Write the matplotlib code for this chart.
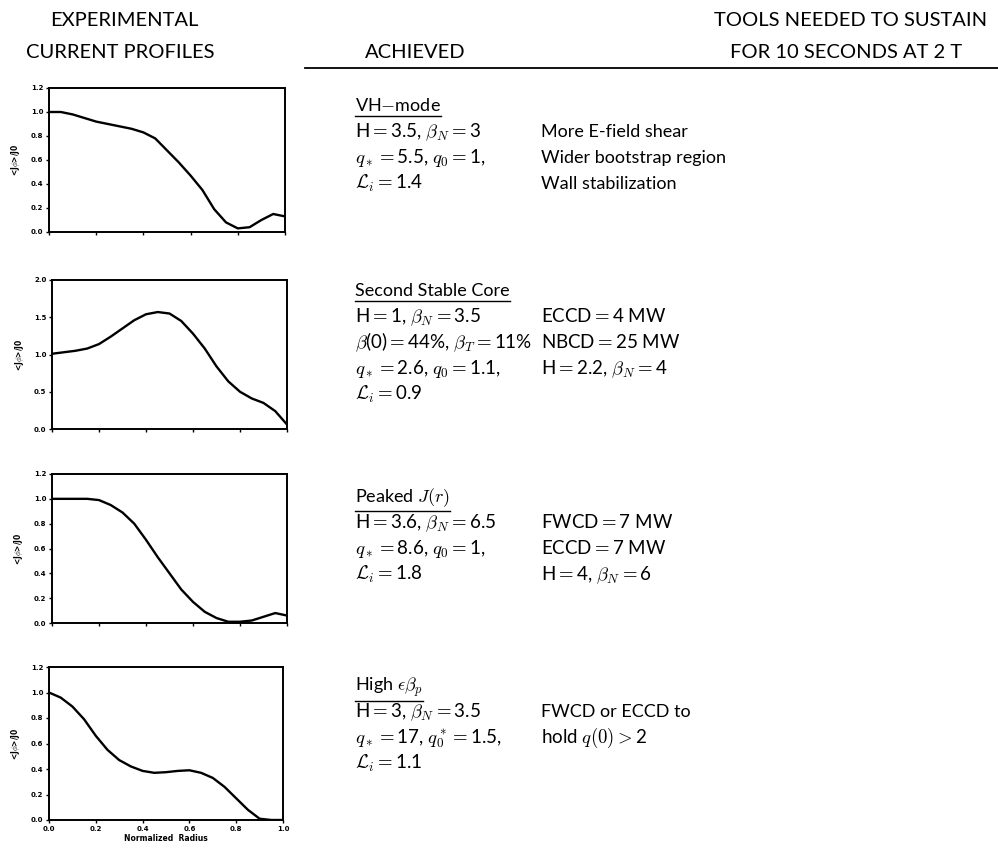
import matplotlib
matplotlib.use("Agg")
import matplotlib.pyplot as plt
from matplotlib.lines import Line2D

plt.rcParams["mathtext.fontset"] = "cm"

W, H = 998, 849

# normalized radius grid shared by all four measured profiles
radius = [0.0, 0.05, 0.1, 0.15, 0.2, 0.25, 0.3, 0.35, 0.4, 0.45, 0.5,
          0.55, 0.6, 0.65, 0.7, 0.75, 0.8, 0.85, 0.9, 0.95, 1.0]

j_vh = [1.0, 1.0, 0.98, 0.95, 0.92, 0.90, 0.88, 0.86, 0.83, 0.78, 0.68,
        0.58, 0.47, 0.35, 0.19, 0.08, 0.03, 0.04, 0.10, 0.15, 0.13]
j_second = [1.01, 1.03, 1.05, 1.08, 1.14, 1.24, 1.35, 1.46, 1.54, 1.57, 1.55,
            1.45, 1.28, 1.08, 0.84, 0.64, 0.50, 0.41, 0.35, 0.24, 0.06]
j_peaked = [1.0, 1.0, 1.0, 1.0, 0.99, 0.95, 0.89, 0.80, 0.67, 0.53, 0.40,
            0.27, 0.17, 0.09, 0.04, 0.01, 0.01, 0.02, 0.05, 0.08, 0.06]
j_high = [1.0, 0.96, 0.89, 0.79, 0.66, 0.55, 0.47, 0.42, 0.385, 0.37, 0.375,
          0.385, 0.39, 0.37, 0.33, 0.26, 0.17, 0.08, 0.01, 0.0, 0.0]

profiles = [j_vh, j_second, j_peaked, j_high]
y_max = [1.2, 2.0, 1.2, 1.2]
y_ticks = [[0.0, 0.2, 0.4, 0.6, 0.8, 1.0, 1.2],
           [0.0, 0.5, 1.0, 1.5, 2.0],
           [0.0, 0.2, 0.4, 0.6, 0.8, 1.0, 1.2],
           [0.0, 0.2, 0.4, 0.6, 0.8, 1.0, 1.2]]
x_ticks = [0.0, 0.2, 0.4, 0.6, 0.8, 1.0]

# box corners in pixels: left, top, right, bottom
boxes = [(49, 88, 285, 232), (52, 280, 287, 429),
         (52, 474, 287, 623), (49, 667, 283, 820)]

E = r"$=$"
titles = [r"VH$-$mode", "Second Stable Core", r"Peaked $J(r)$",
          r"High $\epsilon\beta_p$"]
achieved = [
    [rf"H{E}3.5, $\beta_N${E}3", rf"$q_*${E}5.5, $q_0${E}1,", rf"$\mathcal{{L}}_i${E}1.4"],
    [rf"H{E}1, $\beta_N${E}3.5", rf"$\beta$(0){E}44%, $\beta_T${E}11%",
     rf"$q_*${E}2.6, $q_0${E}1.1,", rf"$\mathcal{{L}}_i${E}0.9"],
    [rf"H{E}3.6, $\beta_N${E}6.5", rf"$q_*${E}8.6, $q_0${E}1,", rf"$\mathcal{{L}}_i${E}1.8"],
    [rf"H{E}3, $\beta_N${E}3.5", rf"$q_*${E}17, $q_0^*${E}1.5,", rf"$\mathcal{{L}}_i${E}1.1"],
]
tools = [
    ["More E-field shear", "Wider bootstrap region", "Wall stabilization"],
    [rf"ECCD{E}4 MW", rf"NBCD{E}25 MW", rf"H{E}2.2, $\beta_N${E}4"],
    [rf"FWCD{E}7 MW", rf"ECCD{E}7 MW", rf"H{E}4, $\beta_N${E}6"],
    ["FWCD or ECCD to", r"hold $q(0)>$2"],
]
title_base = [111, 296, 502, 691]
line_gap = 26

fig = plt.figure(figsize=(W / 100, H / 100), dpi=100)


def fx(px):
    return px / W


def fy(py):
    return 1 - py / H


tick_font = dict(fontsize=5, fontweight="bold")
for k, (l, t, r, b) in enumerate(boxes):
    ax = fig.add_axes([fx(l), fy(b), fx(r - l), (b - t) / H])
    ax.plot(radius, profiles[k], color="black", lw=1.7)
    ax.set_xlim(0, 1)
    ax.set_ylim(0, y_max[k])
    ax.set_yticks(y_ticks[k])
    ax.set_yticklabels([f"{v:.1f}" for v in y_ticks[k]], **tick_font)
    ax.set_xticks(x_ticks)
    if k == 3:
        ax.set_xticklabels([f"{v:.1f}" for v in x_ticks], **tick_font)
        ax.set_xlabel("Normalized  Radius", fontsize=5.5, fontweight="bold", labelpad=2)
    else:
        ax.set_xticklabels([])
        ax.tick_params(axis="x", length=0)
    ax.tick_params(length=2, width=1, pad=2)
    ax.set_ylabel(r"<J$\phi$>/J0", fontsize=5.5, fontweight="bold", labelpad=6)
    for s in ax.spines.values():
        s.set_linewidth(1.4)

# column headers
hdr = dict(fontsize=14.5, family="Lato", ha="center", va="baseline")
fig.text(fx(124), fy(26), "EXPERIMENTAL", **hdr)
fig.text(fx(120), fy(58), "CURRENT PROFILES", **hdr)
fig.text(fx(415), fy(58), "ACHIEVED", **hdr)
fig.text(fx(851), fy(26), "TOOLS NEEDED TO SUSTAIN", **hdr)
fig.text(fx(846), fy(58), "FOR 10 SECONDS AT 2 T", **hdr)
fig.add_artist(Line2D([fx(305), fx(998)], [fy(68), fy(68)], color="black", lw=1.3))

body = dict(fontsize=13, family="Lato", va="baseline", ha="left")
eq = dict(body, fontsize=13.5)
title_texts = []
for k in range(4):
    y0 = title_base[k]
    title_texts.append(fig.text(fx(355), fy(y0), titles[k], **body))
    for i, line in enumerate(achieved[k]):
        fig.text(fx(355), fy(y0 + line_gap * (i + 1)), line, **eq)
    for i, line in enumerate(tools[k]):
        style = eq if "$" in line else body
        fig.text(fx(541), fy(y0 + line_gap * (i + 1)), line, **style)

# underline each regime name
fig.canvas.draw()
renderer = fig.canvas.get_renderer()
inv = fig.transFigure.inverted()
for t in title_texts:
    bb = t.get_window_extent(renderer)
    (x0, y0), (x1, _) = inv.transform([[bb.x0, bb.y0], [bb.x1, bb.y1]])
    fig.add_artist(Line2D([x0, x1], [y0 - 0.002, y0 - 0.002], color="black", lw=1.0))

fig.savefig("out.png", dpi=100)
